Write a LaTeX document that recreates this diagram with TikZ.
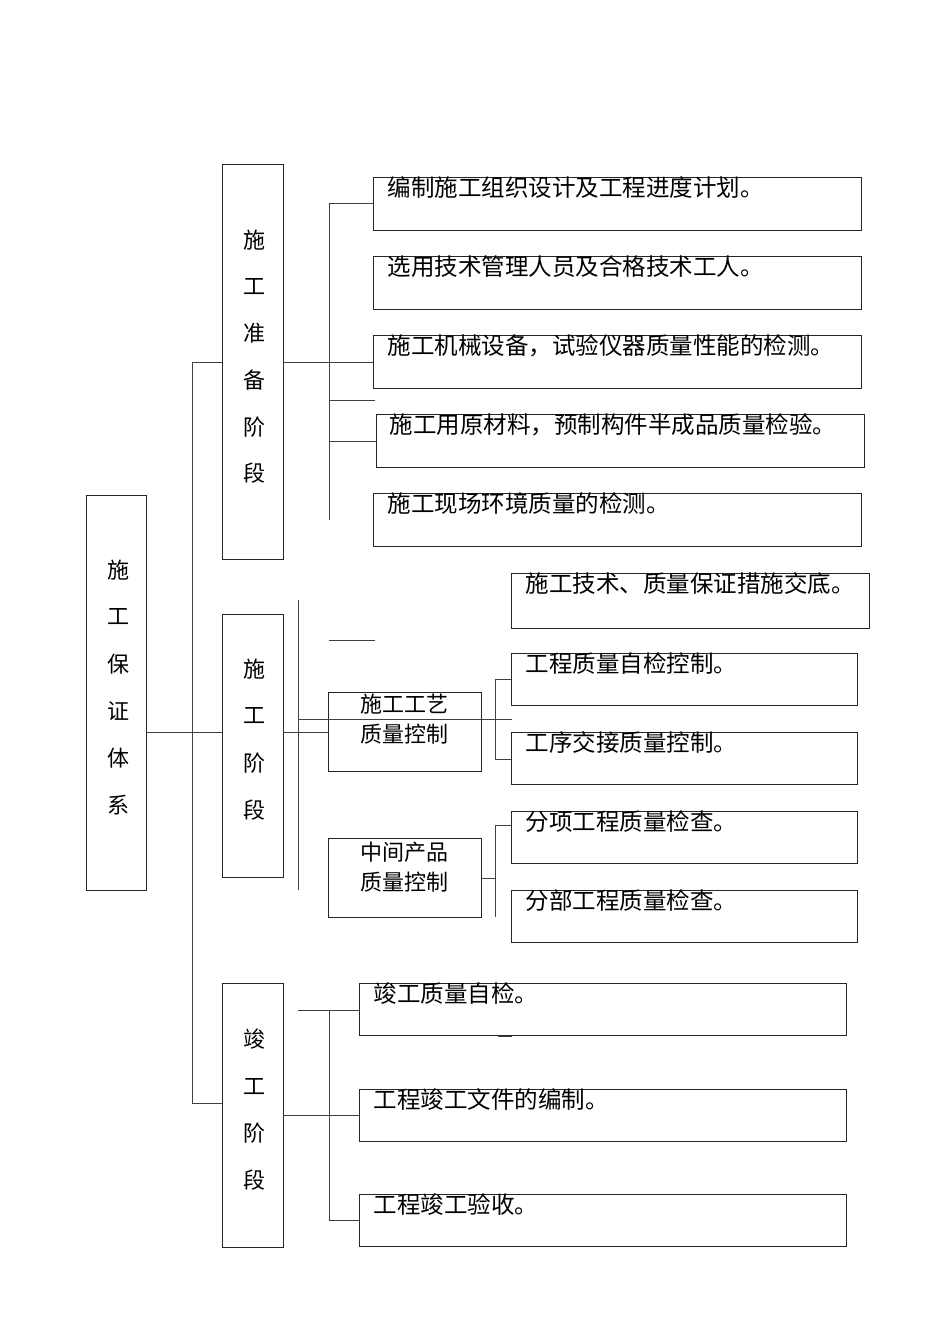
\documentclass[tikz,border=0pt]{standalone}
\usepackage{fontspec}
\setmainfont{Noto Sans CJK SC}
\begin{document}
\begin{tikzpicture}[x=1pt,y=-1pt,line width=1pt,
  bx/.style={draw=black!85},
  ln/.style={draw=black!75},
  t/.style={anchor=north west,inner sep=0pt,font=\fontsize{23.5}{26}\selectfont},
  vc/.style={anchor=center,inner sep=0pt,font=\fontsize{22}{26}\selectfont}]
\useasboundingbox (0,0) rectangle (950,1344);
% root and stages
\draw[bx] (86,495) rectangle (146,890);
\foreach \c/\y in {施/570,工/617,保/664,证/711,体/758,系/805} \node[vc] at (118,\y) {\c};
\draw[bx] (222,164) rectangle (283,559);
\foreach \c/\y in {施/240,工/287,准/333,备/380,阶/427,段/473} \node[vc] at (254,\y) {\c};
\draw[bx] (222,614) rectangle (283,877);
\foreach \c/\y in {施/669,工/716,阶/763,段/810} \node[vc] at (254,\y) {\c};
\draw[bx] (222,983) rectangle (283,1247);
\foreach \c/\y in {竣/1039,工/1087,阶/1133,段/1180} \node[vc] at (254,\y) {\c};
% trunk
\coordinate (tt) at (192,362); \coordinate (tb) at (192,1103);
\draw[ln] (tt) -- (tb);
\draw[ln] (146,732) -- (222,732);
\draw[ln] (tt) -- (222,362);
\draw[ln] (tb) -- (222,1103);
% stage 1 children
\draw[ln] (329,203) -- (329,520);
\draw[ln] (283,362) -- (373,362);
\draw[ln] (329,203) -- (373,203);
\draw[ln] (329,400) -- (375,400);
\draw[ln] (329,441) -- (376,441);
\foreach \y/\tx in {177/编制施工组织设计及工程进度计划。,256/选用技术管理人员及合格技术工人。,335/施工机械设备，试验仪器质量性能的检测。,493/施工现场环境质量的检测。}{
  \draw[bx] (373,\y) rectangle (861,\y+53);
  \node[t] at (387,\y-1) {\tx};}
\draw[bx] (376,414) rectangle (864,467);
\node[t] at (389,413) {施工用原材料，预制构件半成品质量检验。};
% stage 2
\draw[ln] (298,600) -- (298,890);
\draw[ln] (329,640) -- (375,640);
\draw[ln] (283,732) -- (328,732);
\draw[bx] (328,692) rectangle (481,771);
\node[vc] at (404,704) {施工工艺};
\node[vc] at (404,734) {质量控制};
\draw[ln] (298,719) -- (512,719);
\draw[ln] (495,679) -- (495,759);
\draw[ln] (495,679) -- (511,679);
\draw[ln] (495,759) -- (511,759);
\draw[bx] (328,838) rectangle (481,917);
\node[vc] at (404,852) {中间产品};
\node[vc] at (404,882) {质量控制};
\draw[ln] (481,878) -- (495,878);
\draw[ln] (495,825) -- (495,917);
\draw[ln] (495,825) -- (511,825);
\draw[bx] (511,573) rectangle (869,628);
\node[t] at (525,572) {施工技术、质量保证措施交底。};
\foreach \y/\tx in {653/工程质量自检控制。,732/工序交接质量控制。,811/分项工程质量检查。,890/分部工程质量检查。}{
  \draw[bx] (511,\y) rectangle (857,\y+52);
  \node[t] at (525,\y-1) {\tx};}
% stage 3
\draw[ln] (329,1010) -- (329,1220);
\draw[ln] (298,1010) -- (359,1010);
\draw[ln] (283,1115) -- (359,1115);
\draw[ln] (329,1220) -- (359,1220);
\draw[ln] (498,1036) -- (512,1036);
\foreach \y/\tx in {983/竣工质量自检。,1089/工程竣工文件的编制。,1194/工程竣工验收。}{
  \draw[bx] (359,\y) rectangle (846,\y+52);
  \node[t] at (373,\y-1) {\tx};}
\end{tikzpicture}
\end{document}
